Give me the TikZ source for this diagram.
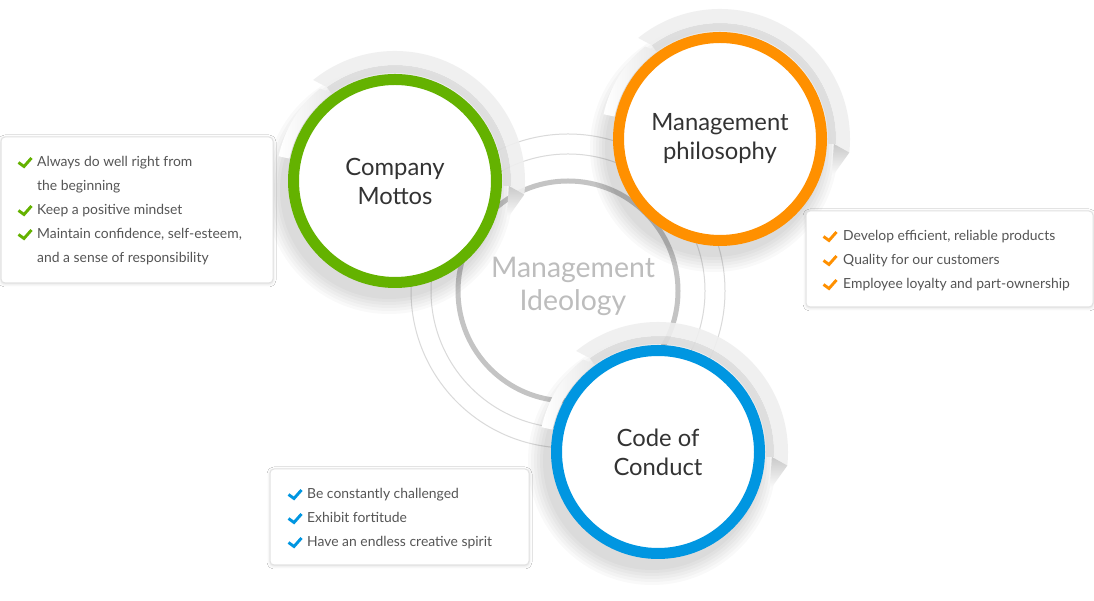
\documentclass[tikz,border=0pt]{standalone}
\usepackage{fontspec}
\setmainfont{Lato}
\usetikzlibrary{shadows.blur}
\definecolor{cgreen}{HTML}{64B200}
\definecolor{corange}{HTML}{FF9000}
\definecolor{cblue}{HTML}{0096E1}
\definecolor{ctext}{HTML}{333333}
\definecolor{clist}{HTML}{555555}
\definecolor{cideo}{HTML}{BDBDBD}
\definecolor{ringgrey}{HTML}{C4C4C4}
\definecolor{thingrey}{HTML}{DADADA}
\definecolor{bandlight}{HTML}{EFEFEF}
\definecolor{banddark}{HTML}{DCDCDC}
\definecolor{bandtail}{HTML}{E9E9E9}
\definecolor{bandtip}{HTML}{C9C9C9}
\definecolor{boxline}{HTML}{E2E2E2}
\newcommand\mySwoosh[1]{%
\begin{scope}[shift={(#1)}]
\shade[left color=white, right color=bandtail] (129:119) arc[start angle=129,end angle=168,radius=119] -- (168:108) arc[start angle=168,end angle=126,radius=108] -- cycle;
\fill[banddark, opacity=.9] (126:108) arc[start angle=126,end angle=-2.5,radius=108] -- (-2.5:116) arc[start angle=-2.5,end angle=126,radius=116] -- cycle;
\fill[bandlight, opacity=.9] (126:116) -- (129:130) arc[start angle=129,end angle=-6,radius=130] -- (-6:116) arc[start angle=-6,end angle=126,radius=116] -- cycle;
\shade[top color=bandtip, bottom color=white] (-2.5:114) -- (-6:130) -- (-19:118) -- cycle;
\end{scope}}
\newcommand\myShadow[1]{%
\begin{scope}[shift={(#1)}]
\foreach \r in {124,121,118,115,112,109}{\fill[black, opacity=.025] (-6,-9) circle[radius=\r];}
\end{scope}}
\newcommand\myCheck[3]{\draw[checkmark, #3] ({#1-5.5},{#2+4.5}) -- ({#1},{#2+0.5}) -- ({#1+7.5},{#2+9});}
\tikzset{
  topic/.style={circle, minimum size=203pt, inner sep=0pt, line width=11pt, fill=white,
    text=ctext, align=center, font=\fontsize{23.8}{29}\selectfont},
  listbox/.style={rectangle, rounded corners=4pt, draw=boxline, line width=1pt, fill=white, inner sep=0pt,
    blur shadow={shadow xshift=0pt, shadow yshift=-1pt, shadow blur radius=3pt, shadow opacity=15}},
  listtext/.style={anchor=base west, inner sep=0pt, text=clist, font=\fontsize{13.9}{16}\selectfont},
  checkmark/.style={line width=2.9pt, line cap=butt, line join=miter},
}
\begin{document}
\begin{tikzpicture}[x=1pt,y=1pt]
\fill[white] (0,0) rectangle (1094,601);
\useasboundingbox (0,0) rectangle (1094,601);
% centre
\coordinate (cc) at (568,310);
\draw[thingrey, line width=1pt] (cc) circle[radius=157];
\draw[thingrey, line width=1pt] (cc) circle[radius=137];
\node[circle, minimum size=220pt, inner sep=0pt, draw=ringgrey, line width=5pt] (ideo) at (cc) {};
\node[text=cideo, align=center, font=\fontsize{28.4}{33}\selectfont, inner sep=0pt] (ideotext) at (573,315) {Management\\Ideology};
% circle centres
\coordinate (gc) at (395,420);
\coordinate (oc) at (720,462);
\coordinate (bc) at (658,149);
\myShadow{gc}
\myShadow{oc}
\myShadow{bc}
\mySwoosh{gc}
\mySwoosh{oc}
\mySwoosh{bc}
\node[topic, draw=cgreen] (mottos) at (gc) {Company\\Mottos};
\node[topic, draw=corange] (philo) at (oc) {Management\\philosophy};
\node[topic, draw=cblue] (conduct) at (bc) {Code of\\Conduct};
% list boxes
\node[listbox, minimum width=272pt, minimum height=146pt] (box1) at (137,391) {};
\node[listbox, minimum width=287pt, minimum height=96pt] (box2) at (949.5,342) {};
\node[listbox, minimum width=259pt, minimum height=96pt] (box3) at (399.5,84) {};
% box 1
\myCheck{24}{434}{cgreen}
\myCheck{24}{386}{cgreen}
\myCheck{24}{362}{cgreen}
\node[listtext] (m1) at (37,434) {Always do well right from};
\node[listtext] (m1b) at (37,410) {the beginning};
\node[listtext] (m2) at (37,386) {Keep a positive mindset};
\node[listtext] (m3) at (37,362) {Maintain confidence, self-esteem,};
\node[listtext] (m3b) at (37,338) {and a sense of responsibility};
% box 2
\myCheck{829}{360}{corange}
\myCheck{829}{336}{corange}
\myCheck{829}{312}{corange}
\node[listtext] (p1) at (843,360) {Develop efficient, reliable products};
\node[listtext] (p2) at (843,336) {Quality for our customers};
\node[listtext] (p3) at (843,312) {Employee loyalty and part-ownership};
% box 3
\myCheck{294}{102}{cblue}
\myCheck{294}{78}{cblue}
\myCheck{294}{54}{cblue}
\node[listtext] (c1) at (307,102) {Be constantly challenged};
\node[listtext] (c2) at (307,78) {Exhibit fortitude};
\node[listtext] (c3) at (307,54) {Have an endless creative spirit};
\end{tikzpicture}
\end{document}
